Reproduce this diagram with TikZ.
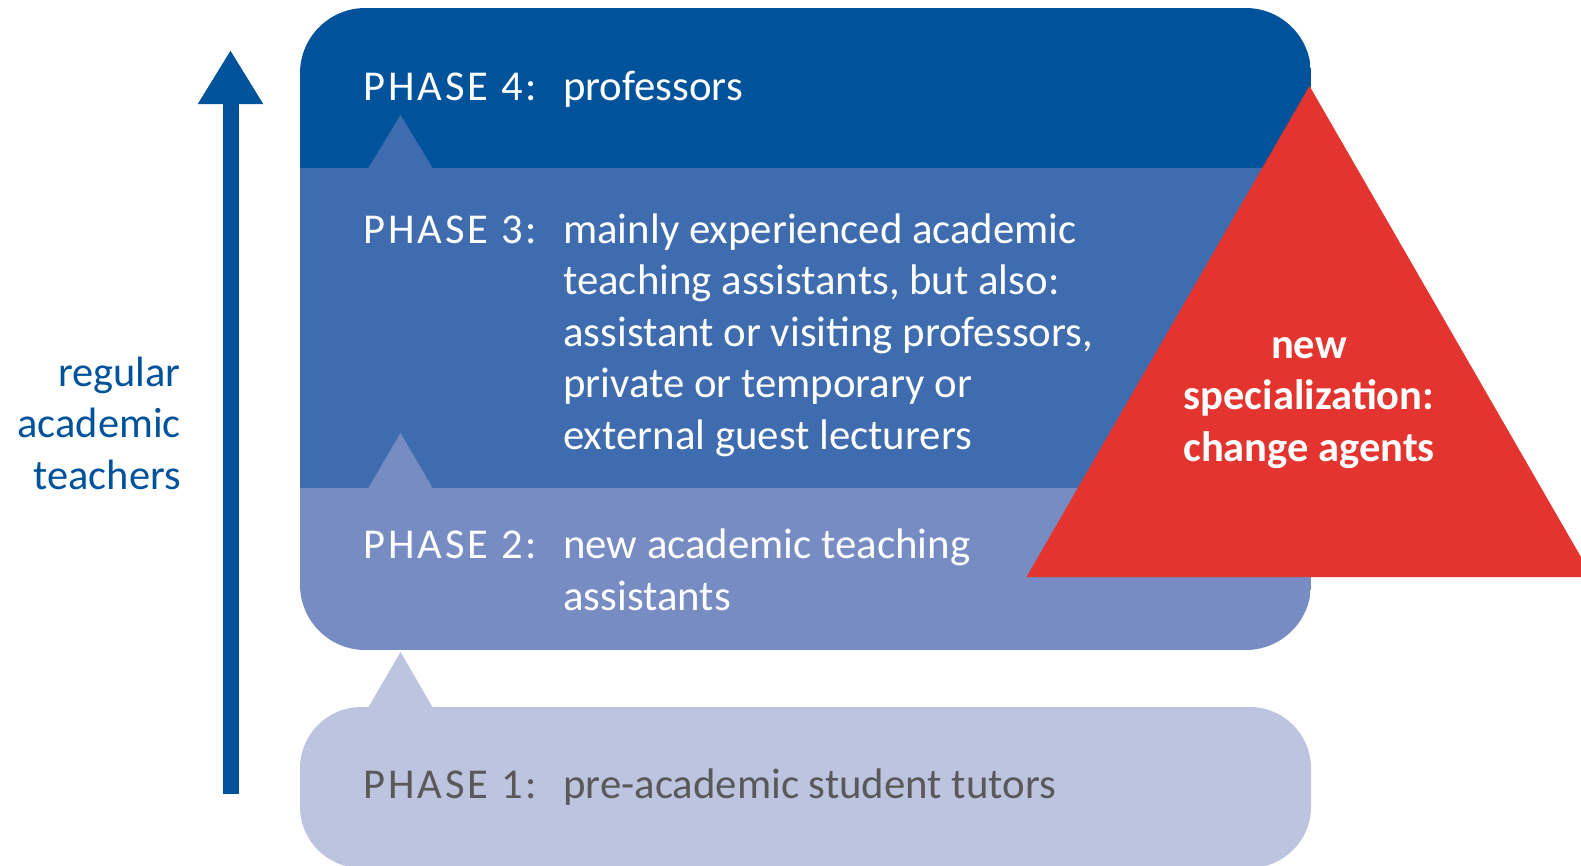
\documentclass[tikz,border=0pt]{standalone}
\usepackage{fontspec}
\setmainfont{Carlito}
\usetikzlibrary{arrows.meta}
\definecolor{pfour}{RGB}{0,82,155}
\definecolor{pthree}{RGB}{62,108,174}
\definecolor{ptwo}{RGB}{118,140,195}
\definecolor{pone}{RGB}{188,196,224}
\definecolor{redtri}{RGB}{227,52,47}
\definecolor{greyone}{RGB}{89,89,89}
\begin{document}
\begin{tikzpicture}[x=0.75pt,y=-0.75pt,
  txt/.style={font=\fontsize{32.1}{38.6}\selectfont, inner sep=0pt, anchor=base west, align=left, text=white},
  lbl/.style={txt, font=\fontsize{31.9}{38.6}\selectfont\addfontfeature{LetterSpace=7}},
  redtxt/.style={font=\fontsize{31.9}{38.6}\selectfont\bfseries, inner sep=0pt, anchor=base, align=center, text=white},
  sidetxt/.style={font=\fontsize{31.8}{38.6}\selectfont, inner sep=0pt, anchor=base east, align=right, text=pfour}]
\useasboundingbox (0,0) rectangle (1581,865);
\clip (0,0) rectangle (1581,865);
% phase 1 box and its tip
\fill[pone, rounded corners=46pt] (300,707) rectangle (1311,868);
\fill[pone] (368,708) -- (400.5,652) -- (433,708) -- cycle;
% main box (phases 2-4)
\begin{scope}
  \clip[rounded corners=49pt] (300,8) rectangle (1311,650);
  \fill[pfour] (300,8) rectangle (1311,168);
  \fill[pthree] (300,168) rectangle (1311,488);
  \fill[ptwo] (300,488) rectangle (1311,650);
\end{scope}
\fill[pthree] (368,168.5) -- (400.5,115) -- (433,168.5) -- cycle;
\fill[ptwo] (368,488.5) -- (400.5,433) -- (433,488.5) -- cycle;
% red triangle
\fill[redtri] (1026.5,577) -- (1309.5,86) -- (1592.5,577) -- cycle;
\node[redtxt] (red) at (1309,461) {new\\specialization:\\change agents};
% arrow
\coordinate (abot) at (230.5,794);
\coordinate (atop) at (230.5,50);
\draw[pfour, line width=12pt, -{Triangle[width=46pt, length=40.5pt]}] (abot) -- (atop);
\node[sidetxt] (side) at (181,489) {regular\\academic\\teachers};
% texts
\node[lbl] (p4l) at (363,100) {PHASE 4:};
\node[txt] (p4t) at (563,100) {professors};
\node[lbl] (p3l) at (363,243) {PHASE 3:};
\node[txt] (p3t) at (563,449) {mainly experienced academic\\teaching assistants, but also:\\assistant or visiting professors,\\private or temporary or\\external guest lecturers};
\node[lbl] (p2l) at (363,558) {PHASE 2:};
\node[txt] (p2t) at (563,610) {new academic teaching\\assistants};
\node[lbl, text=greyone] (p1l) at (363,798) {PHASE 1:};
\node[txt, text=greyone] (p1t) at (563,798) {pre-academic student tutors};
\end{tikzpicture}
\end{document}
